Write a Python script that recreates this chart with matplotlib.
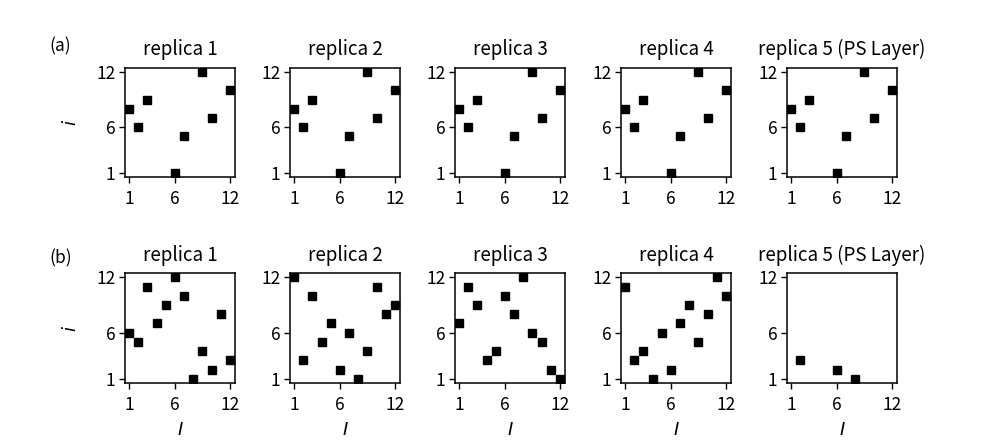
import matplotlib
matplotlib.use('Agg')
import matplotlib.pyplot as plt

plt.rcParams['font.family'] = ['Noto Sans CJK JP', 'DejaVu Sans']

# (I, i) positions of occupied cells for each replica
titles = ['replica 1', 'replica 2', 'replica 3', 'replica 4', 'replica 5 (PS Layer)']

a_I = [1, 2, 3, 6, 7, 9, 10, 12]
a_i = [8, 6, 9, 1, 5, 12, 7, 10]
row_a = [(a_I, a_i)] * 5

b1_I = [1, 2, 3, 4, 5, 6, 7, 8, 9, 10, 11, 12]
b1_i = [6, 5, 11, 7, 9, 12, 10, 1, 4, 2, 8, 3]
b2_I = [1, 2, 3, 4, 5, 6, 7, 8, 9, 10, 11, 12]
b2_i = [12, 3, 10, 5, 7, 2, 6, 1, 4, 11, 8, 9]
b3_I = [1, 2, 3, 4, 5, 6, 7, 8, 9, 10, 11, 12]
b3_i = [7, 11, 9, 3, 4, 10, 8, 12, 6, 5, 2, 1]
b4_I = [1, 2, 3, 4, 5, 6, 7, 8, 9, 10, 11, 12]
b4_i = [11, 3, 4, 1, 6, 2, 7, 9, 5, 8, 12, 10]
b5_I = [2, 6, 8]
b5_i = [3, 2, 1]
row_b = [(b1_I, b1_i), (b2_I, b2_i), (b3_I, b3_i), (b4_I, b4_i), (b5_I, b5_i)]

ticks = [1, 6, 12]

fig = plt.figure(figsize=(9.97, 4.47), dpi=100)
lefts = [0.1254, 0.2909, 0.4564, 0.6229, 0.7894]
w = 0.1103
rows = [(0.604, 0.244, row_a, False), (0.143, 0.246, row_b, True)]

for bottom, h, data, last in rows:
    for k, (xs, ys) in enumerate(data):
        ax = fig.add_axes([lefts[k], bottom, w, h])
        ax.plot(xs, ys, 's', color='black', markersize=6, linestyle='none')
        ax.set_xlim(0.55, 12.55)
        ax.set_ylim(0.55, 12.45)
        ax.set_xticks(ticks)
        ax.set_yticks(ticks)
        ax.tick_params(labelsize=12.5, length=4, width=1, pad=3)
        ax.tick_params(axis='x', pad=5)
        for s in ax.spines.values():
            s.set_linewidth(1.1)
        ax.set_title(titles[k], fontsize=13.5, pad=9)
        if k == 0:
            ax.set_ylabel('i', family='DejaVu Sans', fontstyle='oblique',
                          fontsize=13, labelpad=12)
        if last:
            ax.set_xlabel('I', family='DejaVu Sans', fontstyle='oblique',
                          fontsize=13, labelpad=5)

fig.text(0.050, 0.885, '(a)', fontsize=12.5)
fig.text(0.050, 0.410, '(b)', fontsize=12.5)

fig.savefig('out.png', dpi=100)
